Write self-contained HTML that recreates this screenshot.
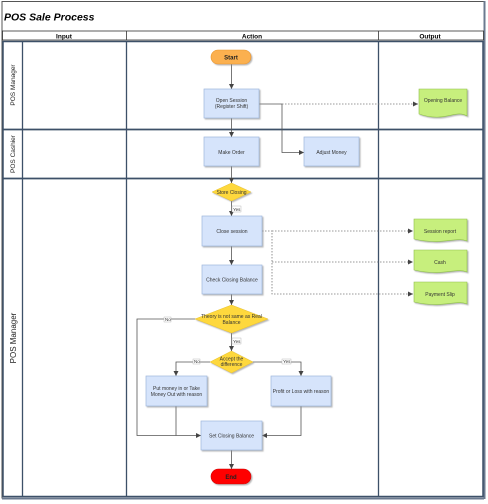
<!DOCTYPE html>
<html><head><meta charset="utf-8"><style>
html,body{margin:0;padding:0;background:#fff;width:488px;height:504px;overflow:hidden}
svg{display:block;font-family:"Liberation Sans",sans-serif}
</style></head><body>
<svg width="488" height="504" viewBox="0 0 488 504" xmlns="http://www.w3.org/2000/svg">
<defs>
<marker id="a" markerWidth="6" markerHeight="6" refX="5" refY="3" orient="auto" markerUnits="userSpaceOnUse"><path d="M0,0.5 L5,3 L0,5.5z" fill="#444"/></marker>
<filter id="s" x="-10%" y="-10%" width="130%" height="140%"><feDropShadow dx="1.2" dy="1.2" stdDeviation="0.6" flood-color="#888" flood-opacity="0.6"/></filter>
</defs>
<rect x="2" y="1.5" width="482" height="496.5" fill="#fff" stroke="#555" stroke-width="1"/>
<line x1="2" y1="498.5" x2="484" y2="498.5" stroke="#6b7a8f" stroke-width="2"/>
<line x1="484.5" y1="1" x2="484.5" y2="499" stroke="#6b7a8f" stroke-width="2"/>
<text x="4" y="20.5" font-size="10.5" font-weight="bold" font-style="italic" fill="#000">POS Sale Process</text>
<rect x="2.5" y="31" width="481" height="9" fill="#fff" stroke="#333" stroke-width="0.8"/>
<line x1="126.5" y1="31" x2="126.5" y2="40" stroke="#333" stroke-width="0.8"/>
<line x1="378.5" y1="31" x2="378.5" y2="40" stroke="#333" stroke-width="0.8"/>
<text x="64" y="38.5" font-size="6.5" font-weight="bold" text-anchor="middle">Input</text>
<text x="252" y="38.5" font-size="6.5" font-weight="bold" text-anchor="middle">Action</text>
<text x="430" y="38.5" font-size="6.5" font-weight="bold" text-anchor="middle">Output</text>
<g stroke="#3d5068" fill="none">
<rect x="3" y="41.5" width="480" height="455" stroke-width="1.5"/>
<line x1="3" y1="129.5" x2="483" y2="129.5" stroke-width="1.8"/>
<line x1="3" y1="178.5" x2="483" y2="178.5" stroke-width="1.8"/>
<line x1="22.5" y1="41" x2="22.5" y2="497" stroke-width="1.3"/>
<line x1="126.5" y1="41" x2="126.5" y2="497" stroke-width="1.3"/>
<line x1="378.5" y1="41" x2="378.5" y2="497" stroke-width="1.3"/>
</g>
<g font-size="6.5" fill="#222" text-anchor="middle">
<text transform="translate(15,85) rotate(-90)">POS Manager</text>
<text transform="translate(15,154) rotate(-90)">POS Cashier</text>
<text transform="translate(16,338) rotate(-90)" font-size="8">POS Manager</text>
</g>
<g stroke="#555" stroke-width="0.8" fill="none">
<line x1="231.5" y1="64" x2="231.5" y2="89" marker-end="url(#a)"/>
<line x1="231.5" y1="118" x2="231.5" y2="137" marker-end="url(#a)"/>
<line x1="231.5" y1="166" x2="231.5" y2="183" marker-end="url(#a)"/>
<polyline points="259,104 282,104 282,152.5 304,152.5" marker-end="url(#a)"/>
<line x1="231.5" y1="201" x2="231.5" y2="216" marker-end="url(#a)"/>
<line x1="231.5" y1="246" x2="231.5" y2="265" marker-end="url(#a)"/>
<line x1="231.5" y1="294" x2="231.5" y2="305" marker-end="url(#a)"/>
<line x1="231.5" y1="333" x2="231.5" y2="351" marker-end="url(#a)"/>
<polyline points="196,319 137,319 137,435.5 201,435.5" marker-end="url(#a)"/>
<polyline points="210,362 176,362 176,376" marker-end="url(#a)"/>
<polyline points="252,362 301,362 301,376" marker-end="url(#a)"/>
<polyline points="176,406 176,435.5"/>
<polyline points="301,406 301,435.5 262,435.5" marker-end="url(#a)"/>
<line x1="231.5" y1="450" x2="231.5" y2="469" marker-end="url(#a)"/>
</g>
<g stroke="#777" stroke-width="0.8" fill="none" stroke-dasharray="1.5,1.5">
<line x1="282" y1="104" x2="418" y2="104" marker-end="url(#a)"/>
<polyline points="262,231 272,231 272,294 413,294" marker-end="url(#a)"/>
<line x1="272" y1="231" x2="413" y2="231" marker-end="url(#a)"/>
<line x1="272" y1="262" x2="413" y2="262" marker-end="url(#a)"/>
</g>
<g font-size="4.5" fill="#333">
<rect x="232" y="206" width="9" height="6" fill="#fff" stroke="#aaa" stroke-width="0.4"/><text x="233" y="211">Yes</text>
<rect x="164" y="317" width="7" height="5" fill="#fff" stroke="#aaa" stroke-width="0.4"/><text x="165" y="321">No</text>
<rect x="232" y="338" width="9" height="6" fill="#fff" stroke="#aaa" stroke-width="0.4"/><text x="233" y="343">Yes</text>
<rect x="193" y="359" width="7" height="5" fill="#fff" stroke="#aaa" stroke-width="0.4"/><text x="194" y="363">No</text>
<rect x="282" y="359" width="9" height="5" fill="#fff" stroke="#aaa" stroke-width="0.4"/><text x="283" y="363">Yes</text>
</g>
<g filter="url(#s)">
<rect x="211" y="50" width="40" height="14" rx="7" fill="#fbb04f" stroke="#e8962c" stroke-width="0.6"/>
<rect x="211" y="469" width="40" height="15" rx="7.5" fill="#ff0000" stroke="#c00" stroke-width="0.6"/>
<g fill="#d6e4fb" stroke="#9fb7dc" stroke-width="0.7">
<rect x="204" y="89" width="55" height="29"/>
<rect x="204" y="137" width="55" height="29"/>
<rect x="304" y="137" width="55" height="29"/>
<rect x="202" y="216" width="60" height="30"/>
<rect x="202" y="265" width="60" height="29"/>
<rect x="146" y="376" width="61" height="30"/>
<rect x="271" y="376" width="60" height="30"/>
<rect x="201" y="421" width="61" height="29"/>
</g>
<g fill="#fed83c" stroke="#e7c12b" stroke-width="0.5">
<polygon points="231.5,183 251,192 231.5,201 212,192"/>
<polygon points="231.5,305 268,319 231.5,333 195,319"/>
<polygon points="231.5,351 253,362 231.5,373 210,362"/>
</g>
<g fill="#c7ef7d" stroke="#8fbf4a" stroke-width="0.6">
<path d="M419,89 H467 V116 C455,109 445,123 419,114 Z"/>
<path d="M414,219 H467 V241 C455,236 445,246 414,239 Z"/>
<path d="M414,250 H467 V272 C455,267 445,277 414,270 Z"/>
<path d="M414,282 H467 V304 C455,299 445,309 414,302 Z"/>
</g>
</g>
<g font-size="5" fill="#333" text-anchor="middle">
<text x="231" y="59.5" font-size="6" font-weight="bold" fill="#222">Start</text>
<text x="231" y="479" font-size="6" font-weight="bold" fill="#222">End</text>
<text x="231.5" y="102">Open Session</text>
<text x="231.5" y="108">(Register Shift)</text>
<text x="231.5" y="154">Make Order</text>
<text x="331.5" y="154">Adjust Money</text>
<text x="232" y="233">Close session</text>
<text x="232" y="281.5">Check Closing Balance</text>
<text x="176.5" y="390">Put money in or Take</text>
<text x="176.5" y="396">Money Out with reason</text>
<text x="301" y="393">Profit or Loss with reason</text>
<text x="231.5" y="437.5">Set Closing Balance</text>
<text x="231.5" y="194">Store Closing</text>
<text x="231.5" y="318">Theory is not same as Real</text>
<text x="231.5" y="324">Balance</text>
<text x="231.5" y="360.5">Accept the</text>
<text x="231.5" y="366">difference</text>
<text x="443" y="102">Opening Balance</text>
<text x="440" y="233">Session report</text>
<text x="440" y="264">Cash</text>
<text x="440" y="296">Payment Slip</text>
</g>
</svg>
</body></html>
